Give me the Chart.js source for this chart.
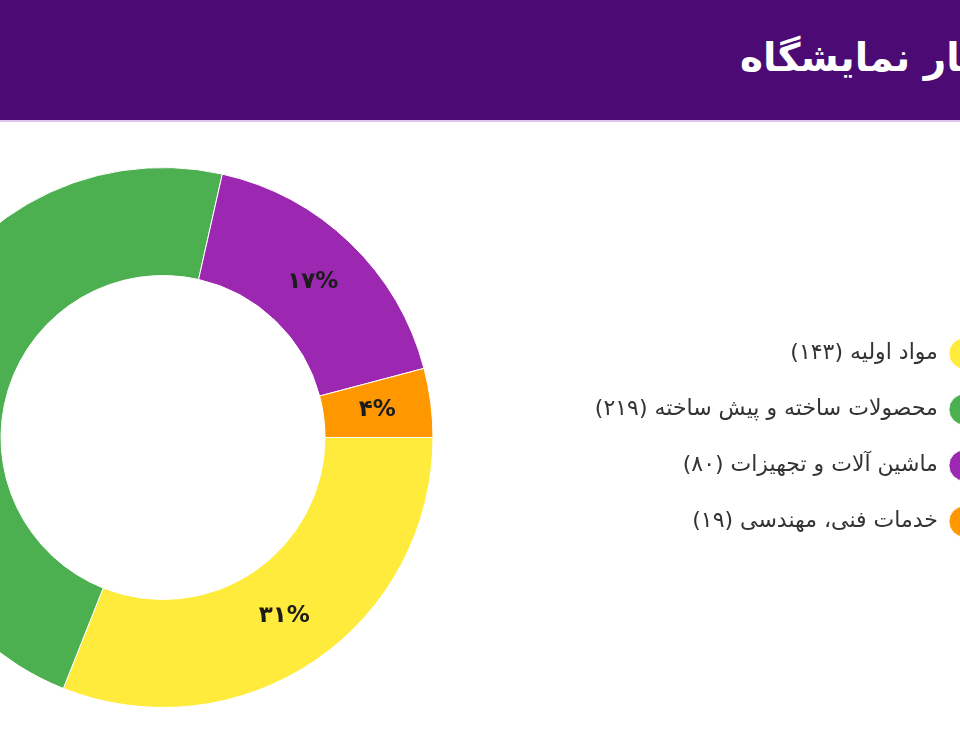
<!DOCTYPE html>
<html lang="fa">
<head>
<meta charset="utf-8">
<title>آمار نمایشگاه</title>
<script src="https://cdn.jsdelivr.net/npm/chart.js@4.4.1/dist/chart.umd.min.js"></script>
<style>
  html, body { margin: 0; padding: 0; width: 960px; height: 750px; overflow: hidden; background: #ffffff; }
  body { position: relative; font-family: "DejaVu Sans", sans-serif; }
  #header { position: absolute; left: 0; top: 0; width: 960px; height: 120px; background: #4b0a74;
            border-bottom: 2px solid #dcc4ee; overflow: hidden; }
  #title { position: absolute; left: 740px; top: 34px; margin: 0; white-space: nowrap; direction: rtl;
           color: #ffffff; font: bold 39px "DejaVu Sans", sans-serif; line-height: 48px; }
  #wrap { position: absolute; left: -400px; top: 125px; width: 1414px; height: 625px; }
</style>
</head>
<body>
<div id="header"><h1 id="title">آمار نمایشگاه</h1></div>
<div id="wrap"><canvas id="c" width="1414" height="625"></canvas></div>
<script>
// ---- data ----
const categories = ['مواد اولیه', 'محصولات ساخته و پیش ساخته', 'ماشین آلات و تجهیزات', 'خدمات فنی، مهندسی'];
const counts = [143, 219, 80, 19];
const colors = ['#FFEB3B', '#4CAF50', '#9C27B0', '#FF9800'];

const FA = '۰۱۲۳۴۵۶۷۸۹';
const toFa = v => String(v).replace(/\d/g, d => FA[d]);
const legendLabels = categories.map((c, i) => c + ' (' + toFa(counts[i]) + ')');

// ---- layout: place doughnut centre at page x=163 ----
const WRAP_LEFT = -400, CANVAS_W = 1414, CENTER_X = 163;
const FONT_FAMILY = '"DejaVu Sans", sans-serif';
const LEG_FS = 22, LEG_PAD = 34, BOX_H = 22, PSW = BOX_H * Math.SQRT2;
const mctx = document.createElement('canvas').getContext('2d');
mctx.font = LEG_FS + 'px ' + FONT_FAMILY;
const maxText = Math.max(...legendLabels.map(t => mctx.measureText(t).width));
const colWidth = PSW + LEG_FS / 2 + maxText;
const legendLeft = CANVAS_W - (LEG_PAD + colWidth + 10);
const padLeft = 2 * (CENTER_X - WRAP_LEFT) - legendLeft;

const pctLabels = {
  id: 'pctLabels',
  afterDatasetsDraw(chart) {
    const ctx = chart.ctx;
    const ds = chart.data.datasets[0].data;
    const total = ds.reduce((a, b) => a + b, 0);
    const meta = chart.getDatasetMeta(0);
    ctx.save();
    ctx.direction = 'ltr';
    ctx.font = 'bold 23px ' + FONT_FAMILY;
    ctx.fillStyle = '#1c1c1c';
    ctx.textAlign = 'center';
    ctx.textBaseline = 'middle';
    meta.data.forEach((arc, i) => {
      const p = arc.getCenterPoint();
      ctx.fillText(toFa(Math.round(ds[i] / total * 100)) + '%', p.x, p.y);
    });
    ctx.restore();
  }
};

new Chart(document.getElementById('c'), {
  type: 'doughnut',
  data: {
    labels: legendLabels,
    datasets: [{
      data: counts,
      backgroundColor: colors,
      borderColor: '#ffffff',
      borderWidth: 1
    }]
  },
  options: {
    responsive: false,
    animation: false,
    rotation: 90,
    cutout: '60%',
    radius: 270,
    layout: { padding: { left: padLeft, right: 0, top: 0, bottom: 0 } },
    plugins: {
      tooltip: { enabled: false },
      legend: {
        position: 'right',
        align: 'center',
        rtl: true,
        textDirection: 'rtl',
        labels: {
          usePointStyle: true,
          pointStyle: 'circle',
          boxHeight: BOX_H,
          pointStyleWidth: PSW,
          padding: LEG_PAD,
          color: '#333333',
          font: { family: FONT_FAMILY, size: LEG_FS }
        }
      }
    }
  },
  plugins: [pctLabels]
});
</script>
</body>
</html>
